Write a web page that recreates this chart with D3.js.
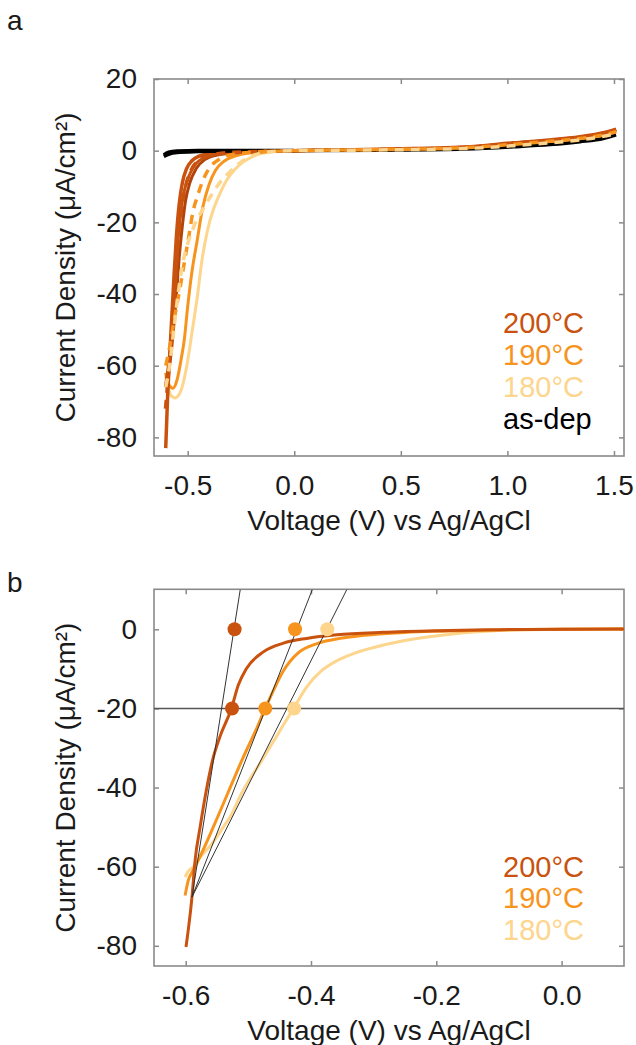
<!DOCTYPE html>
<html><head><meta charset="utf-8">
<script src="https://cdn.jsdelivr.net/npm/d3@7/dist/d3.min.js"></script>
<style>
body{margin:0;background:#fff;}
svg text{font-family:"Liberation Sans",Arial,sans-serif;}
</style></head>
<body><svg id="c" width="636" height="1045"></svg>
<script>
// ---------- DATA ----------
const colors = {c200:"#c9520e", c200dark:"#b0440a", c190:"#f7941e", c180:"#fdd58c", dep:"#000000"};
const legendA = ["200°C","190°C","180°C","as-dep"];
const legendB = ["200°C","190°C","180°C"];
const xTicksA = [-0.5,0.0,0.5,1.0,1.5];
const yTicksA = [20,0,-20,-40,-60,-80];
const xTicksB = [-0.6,-0.4,-0.2,0.0];
const yTicksB = [0,-20,-40,-60,-80];

// panel a : voltage (V), current density (uA/cm2)
const a200s1 = [[-0.603,-83],[-0.595,-70],[-0.585,-58],[-0.575,-47],[-0.565,-36],[-0.553,-24],[-0.540,-15],[-0.525,-9],[-0.505,-5],[-0.48,-2.8],[-0.45,-1.6],[-0.40,-0.9],[-0.30,-0.4],[-0.15,-0.1],[0.0,0.0],[0.4,0.4],[0.8,1.0],[1.03,2.2],[1.2,3.0],[1.34,3.9],[1.45,5.0],[1.51,6.0]];
const a200s2 = [[-0.605,-66],[-0.595,-62],[-0.58,-55],[-0.565,-45],[-0.555,-35],[-0.545,-25],[-0.532,-17],[-0.515,-11],[-0.49,-6.5],[-0.46,-3.5],[-0.42,-2],[-0.37,-1.1],[-0.25,-0.4],[0,0],[0.4,0.35],[0.8,0.9],[1.03,2.0],[1.2,2.8],[1.34,3.7],[1.45,4.8],[1.51,5.8]];
const a200s3 = [[-0.6,-64],[-0.585,-60],[-0.57,-52],[-0.555,-42],[-0.54,-30],[-0.525,-21],[-0.51,-14],[-0.49,-9],[-0.46,-5],[-0.42,-2.5],[-0.36,-1.2],[-0.25,-0.5],[0,0],[0.4,0.35],[0.8,0.95],[1.03,2.1],[1.2,2.9],[1.34,3.8],[1.45,4.9],[1.51,5.9]];
const a200d = [[-0.604,-72],[-0.59,-62],[-0.575,-50],[-0.56,-38],[-0.545,-26],[-0.53,-17],[-0.51,-10],[-0.485,-5.5],[-0.45,-2.8],[-0.40,-1.4],[-0.3,-0.5],[0,0],[0.4,0.3],[0.8,0.9],[1.03,2.0],[1.2,2.8],[1.34,3.6],[1.45,4.7],[1.51,5.6]];
const a190s = [[-0.604,-62],[-0.59,-65],[-0.569,-66.3],[-0.55,-64],[-0.53,-58],[-0.516,-52.8],[-0.50,-43.5],[-0.481,-34.2],[-0.455,-24.9],[-0.43,-16],[-0.40,-9.5],[-0.37,-5.5],[-0.33,-3],[-0.27,-1.4],[-0.18,-0.5],[0,0],[0.4,0.3],[0.8,0.85],[1.03,1.9],[1.2,2.7],[1.34,3.6],[1.45,4.6],[1.51,5.6]];
const a190d = [[-0.603,-60],[-0.585,-55],[-0.56,-46],[-0.535,-38],[-0.515,-31],[-0.495,-24],[-0.475,-17],[-0.453,-12.5],[-0.43,-8.5],[-0.40,-5],[-0.36,-2.7],[-0.3,-1.2],[-0.2,-0.4],[0,0],[0.4,0.3],[0.8,0.8],[1.03,1.8],[1.2,2.6],[1.34,3.4],[1.45,4.4],[1.51,5.3]];
const a180s = [[-0.603,-63],[-0.59,-66.5],[-0.575,-68.5],[-0.558,-69],[-0.54,-68],[-0.53,-66.7],[-0.504,-60],[-0.478,-50],[-0.453,-40],[-0.435,-31.4],[-0.406,-22],[-0.38,-16.5],[-0.355,-12.8],[-0.32,-8.5],[-0.28,-5.3],[-0.24,-3.2],[-0.20,-1.8],[-0.16,-0.9],[-0.1,-0.3],[0,0],[0.4,0.25],[0.8,0.7],[1.03,1.6],[1.2,2.4],[1.34,3.3],[1.45,4.3],[1.51,5.2]];
const a180d = [[-0.603,-66],[-0.585,-60],[-0.565,-50],[-0.545,-40],[-0.525,-32],[-0.50,-26],[-0.47,-21],[-0.43,-16.5],[-0.39,-12.5],[-0.35,-9],[-0.30,-5.8],[-0.25,-3.2],[-0.20,-1.5],[-0.15,-0.6],[-0.1,-0.2],[0,0],[0.4,0.2],[0.8,0.6],[1.03,1.4],[1.2,2.2],[1.34,3.0],[1.45,4.0],[1.51,4.8]];
const aDep = [[-0.612,-1.6],[-0.59,-1.0],[-0.55,-0.5],[-0.45,-0.25],[-0.3,-0.1],[0,0],[0.4,0.15],[0.8,0.5],[1.03,1.1],[1.2,1.7],[1.34,2.5],[1.45,3.4],[1.51,4.4]];
const aDepRev = [[-0.612,-1.2],[-0.59,-0.4],[-0.55,-0.1],[-0.45,0.05],[-0.3,0.05],[0,0.05]];

// panel b
const b200 = [[-0.5995,-80.3],[-0.590,-67.7],[-0.585,-58.4],[-0.577,-50],[-0.568,-41.5],[-0.557,-33],[-0.545,-27],[-0.527,-20],[-0.516,-14.1],[-0.503,-9.9],[-0.476,-5.7],[-0.444,-3.5],[-0.407,-2.3],[-0.359,-1.4],[-0.285,-0.76],[-0.2,-0.35],[-0.1,-0.1],[0,0],[0.1,0.1]];
const b190 = [[-0.601,-67.3],[-0.596,-63.5],[-0.589,-61.2],[-0.580,-58.4],[-0.556,-50],[-0.533,-41.5],[-0.510,-33],[-0.488,-25.5],[-0.473,-20],[-0.458,-14.8],[-0.444,-10.5],[-0.42,-5.9],[-0.39,-3.6],[-0.35,-2.2],[-0.30,-1.3],[-0.25,-0.8],[-0.2,-0.5],[-0.1,-0.15],[0,0],[0.1,0.1]];
const b180 = [[-0.601,-62.6],[-0.596,-61.2],[-0.588,-60.1],[-0.577,-57.6],[-0.558,-54.2],[-0.540,-50],[-0.529,-47.4],[-0.511,-41.5],[-0.478,-33],[-0.451,-26],[-0.428,-20],[-0.407,-14.6],[-0.384,-10.6],[-0.358,-7.9],[-0.33,-6.0],[-0.295,-4.4],[-0.258,-3.1],[-0.22,-2.1],[-0.18,-1.3],[-0.14,-0.7],[-0.1,-0.3],[-0.05,-0.1],[0,0],[0.1,0.1]];
const tangent200 = [[-0.590,-67.7],[-0.513,10]];
const tangent190 = [[-0.590,-67.7],[-0.398,10]];
const tangent180 = [[-0.590,-67.7],[-0.343,10]];
const dots200 = [[-0.522,0],[-0.526,-20]];
const dots190 = [[-0.4255,0],[-0.473,-20]];
const dots180 = [[-0.374,0],[-0.427,-20]];
const refLevel = -20;

// ---------- DRAW ----------
const svg = d3.select("#c");
const FS = 28;
const frameCol = "#8a8a8a";
const hy = s => s.replace(/\u2212/g,"-");
const fmtX = d => hy(d3.format(".1f")(d));
const fmtY = d => hy(d3.format("d")(d));

function panel(cfg){
  const g = svg.append("g");
  const x = d3.scaleLinear().domain(cfg.xd).range([cfg.l, cfg.r]);
  const y = d3.scaleLinear().domain(cfg.yd).range([cfg.b, cfg.t]);
  const id = "clip"+cfg.name;
  svg.append("clipPath").attr("id",id).append("rect")
    .attr("x",cfg.l).attr("y",cfg.t).attr("width",cfg.r-cfg.l).attr("height",cfg.b-cfg.t);
  const ax = (gen, tr, ticks, fmt, pad) => {
    const a = g.append("g").attr("transform",tr)
      .call(gen.tickValues(ticks).tickSize(-5).tickPadding(pad).tickFormat(fmt || (()=> "")));
    a.select(".domain").remove();
    a.selectAll(".tick line").attr("stroke",frameCol).attr("stroke-width",1.5);
    a.selectAll(".tick text").attr("font-size",FS).attr("fill","#1a1a1a")
      .attr("font-family","Liberation Sans, Arial, sans-serif");
    return a;
  };
  ax(d3.axisBottom(x), `translate(0,${cfg.b})`, cfg.xt, fmtX, 19);
  ax(d3.axisTop(x), `translate(0,${cfg.t})`, cfg.xt, null, 0);
  ax(d3.axisLeft(y), `translate(${cfg.l},0)`, cfg.yt, fmtY, 17);
  ax(d3.axisRight(y), `translate(${cfg.r},0)`, cfg.yt, null, 0);
  g.append("rect").attr("x",cfg.l).attr("y",cfg.t).attr("width",cfg.r-cfg.l).attr("height",cfg.b-cfg.t)
    .attr("fill","none").attr("stroke",frameCol).attr("stroke-width",1.6);
  g.append("text").attr("x",(cfg.l+cfg.r)/2).attr("y",cfg.b+74).attr("text-anchor","middle")
    .attr("font-size",FS).attr("fill","#1a1a1a").text("Voltage (V) vs Ag/AgCl");
  g.append("text").attr("transform",`translate(75,${(cfg.t+cfg.b)/2}) rotate(-90)`).attr("text-anchor","middle")
    .attr("font-size",FS).attr("fill","#1a1a1a").text("Current Density (μA/cm²)");
  g.append("text").attr("x",7).attr("y",cfg.labelY).attr("font-size",FS).attr("fill","#1a1a1a").text(cfg.name);
  const plot = g.append("g").attr("clip-path",`url(#${id})`);
  return {g, plot, x, y};
}

// Panel a
const A = panel({name:"a", l:154, r:624, t:79, b:456, xd:[-0.658,1.547], yd:[-85.2,20],
  xt:xTicksA, yt:yTicksA, labelY:30});
const lineA = d3.line().x(d=>A.x(d[0])).y(d=>A.y(d[1])).curve(d3.curveMonotoneX);
const seriesA = [
  {d:a180s, c:colors.c180, w:3, dash:null},
  {d:a190s, c:colors.c190, w:3, dash:null},
  {d:a200s3, c:colors.c200dark, w:3, dash:null},
  {d:a200s2, c:colors.c200, w:3, dash:null},
  {d:a200s1, c:colors.c200, w:3.5, dash:null},
  {d:aDepRev, c:colors.dep, w:3.5, dash:null},
  {d:aDep, c:colors.dep, w:3.5, dash:null},
  {d:a200d, c:colors.c200, w:3.5, dash:"9,7"},
  {d:a190d, c:colors.c190, w:3.5, dash:"9,7"},
  {d:a180d, c:colors.c180, w:3.5, dash:"9,7"}
];
seriesA.forEach(s=>{
  A.plot.append("path").attr("d",lineA(s.d)).attr("fill","none").attr("stroke",s.c)
    .attr("stroke-width",s.w).attr("stroke-dasharray",s.dash).attr("stroke-linecap","butt");
});
const legColsA = [colors.c200, colors.c190, colors.c180, colors.dep];
A.g.selectAll(".legA").data(legendA).join("text").attr("class","legA")
  .attr("x",503).attr("y",(d,i)=>333+i*32).attr("font-size",29)
  .attr("fill",(d,i)=>legColsA[i]).text(d=>d);

// Panel b
const B = panel({name:"b", l:154, r:624, t:589.3, b:966, xd:[-0.6506,0.0996], yd:[-85.1,10.11],
  xt:xTicksB, yt:yTicksB, labelY:592});
const lineB = d3.line().x(d=>B.x(d[0])).y(d=>B.y(d[1])).curve(d3.curveMonotoneX);
const straight = d3.line().x(d=>B.x(d[0])).y(d=>B.y(d[1]));
B.plot.append("line").attr("x1",B.x.range()[0]).attr("x2",B.x.range()[1])
  .attr("y1",B.y(refLevel)).attr("y2",B.y(refLevel)).attr("stroke","#555").attr("stroke-width",1.4);
[[b180,colors.c180],[b190,colors.c190],[b200,colors.c200]].forEach(([d,c])=>{
  B.plot.append("path").attr("d",lineB(d)).attr("fill","none").attr("stroke",c).attr("stroke-width",3);
});
[tangent200,tangent190,tangent180].forEach(d=>{
  B.plot.append("path").attr("d",straight(d)).attr("fill","none").attr("stroke","#333").attr("stroke-width",1);
});
[[dots200,colors.c200],[dots190,colors.c190],[dots180,colors.c180]].forEach(([d,c])=>{
  B.plot.selectAll(null).data(d).join("circle").attr("cx",p=>B.x(p[0])).attr("cy",p=>B.y(p[1]))
    .attr("r",7).attr("fill",c);
});
const legColsB = [colors.c200, colors.c190, colors.c180];
B.g.selectAll(".legB").data(legendB).join("text").attr("class","legB")
  .attr("x",503).attr("y",(d,i)=>876.7+i*31.7).attr("font-size",29)
  .attr("fill",(d,i)=>legColsB[i]).text(d=>d);
</script></body></html>
